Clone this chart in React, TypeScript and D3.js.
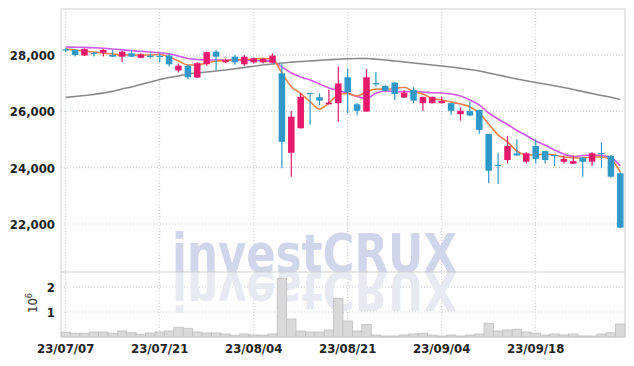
import * as d3 from "d3";

// trading days shown (Korean market, Jul-Oct 2023)
const dates = [
  "23/07/07", "23/07/10", "23/07/11", "23/07/12", "23/07/13", "23/07/14",
  "23/07/17", "23/07/18", "23/07/19", "23/07/20", "23/07/21",
  "23/07/24", "23/07/25", "23/07/26", "23/07/27", "23/07/28",
  "23/07/31", "23/08/01", "23/08/02", "23/08/03", "23/08/04",
  "23/08/07", "23/08/08", "23/08/09", "23/08/10", "23/08/11",
  "23/08/14", "23/08/16", "23/08/17", "23/08/18",
  "23/08/21", "23/08/22", "23/08/23", "23/08/24", "23/08/25",
  "23/08/28", "23/08/29", "23/08/30", "23/08/31", "23/09/01",
  "23/09/04", "23/09/05", "23/09/06", "23/09/07", "23/09/08",
  "23/09/11", "23/09/12", "23/09/13", "23/09/14", "23/09/15",
  "23/09/18", "23/09/19", "23/09/20", "23/09/21", "23/09/22",
  "23/09/25", "23/09/26", "23/09/27", "23/10/04", "23/10/05",
];

const open = [
  28200, 28180, 27980, 28080, 28080, 28000, 27940, 28060, 27900, 27980,
  27970, 27980, 27450, 27620, 27200, 27670, 28120, 27740, 27940, 27670,
  27740, 27740, 27730, 27350, 24530, 25400, 26650, 26500, 26250, 26290,
  27210, 26250, 25990, 27000, 26900, 27020, 26490, 26760, 26290, 26290,
  26290, 26290, 25900, 26010, 26050, 25200, 24100, 24270, 24510, 24210,
  24770, 24590, 24450, 24210, 24140, 24350, 24210, 24520, 24420, 23800,
];
const high = [
  28230, 28200, 28230, 28110, 28200, 28180, 28150, 28180, 28060, 28040,
  28050, 28050, 27700, 27650, 27740, 28120, 28180, 27880, 28000, 28000,
  27900, 27900, 28060, 27700, 26010, 26640, 26650, 26640, 26760, 27590,
  27530, 26300, 27500, 27400, 26940, 27050, 26760, 26860, 26520, 26530,
  26520, 26290, 26140, 26340, 26060, 25200, 24510, 25130, 25010, 24550,
  25010, 24600, 24460, 24430, 24430, 24380, 24550, 24900, 24450, 23840,
];
const low = [
  28100, 27950, 27970, 27950, 27950, 27930, 27740, 27920, 27880, 27880,
  27740, 27590, 27380, 27140, 27190, 27610, 27470, 27720, 27650, 27620,
  27700, 27700, 27700, 23980, 23680, 25380, 25520, 26220, 26250, 25630,
  25930, 25870, 25990, 26880, 26700, 26400, 26470, 26290, 26010, 26280,
  26280, 25870, 25670, 25830, 25200, 23450, 23420, 24150, 24430, 24150,
  24150, 24150, 24060, 24150, 24130, 23680, 24070, 23980, 23640, 21850,
];
const close = [
  28180, 28000, 28210, 28040, 28180, 27940, 28120, 27940, 28020, 27930,
  27940, 27670, 27620, 27210, 27710, 28100, 27940, 27820, 27740, 27940,
  27880, 27860, 27980, 24920, 25810, 26520, 26610, 26380, 26310, 26990,
  26680, 26020, 27210, 26970, 26730, 26620, 26660, 26380, 26510, 26510,
  26370, 26020, 26020, 25850, 25340, 23890, 24070, 24770, 24430, 24510,
  24310, 24270, 24430, 24310, 24230, 24210, 24510, 24500, 23680, 21870,
];

// volume in millions of shares
const volume = [
  0.19, 0.15, 0.15, 0.2, 0.2, 0.15, 0.24, 0.17, 0.11, 0.16,
  0.2, 0.24, 0.39, 0.35, 0.2, 0.16, 0.16, 0.12, 0.07, 0.12,
  0.08, 0.07, 0.12, 2.35, 0.72, 0.24, 0.2, 0.2, 0.28, 1.55,
  0.64, 0.24, 0.5, 0.08, 0.04, 0.04, 0.08, 0.12, 0.15, 0.08,
  0.04, 0.08, 0.04, 0.08, 0.12, 0.55, 0.24, 0.28, 0.31, 0.2,
  0.15, 0.08, 0.12, 0.08, 0.12, 0.04, 0.04, 0.12, 0.17, 0.52,
];

// moving averages
const maShort = [
  28213, 28178, 28142, 28107, 28071, 28036, 28000, 28000, 28000, 28000,
  28018, 27929, 27787, 27645, 27645, 27716, 27787, 27805, 27823, 27840,
  27858, 27876, 27858, 27361, 26875, 26640, 26342, 26083, 26296, 26580,
  26633, 26545, 26687, 26793, 26782, 26811, 26853, 26704, 26616, 26456,
  26403, 26332, 26261, 26154, 25941, 25551, 25160, 24912, 24592, 24450,
  24450, 24485, 24450, 24379, 24354, 24343, 24379, 24379, 24290, 23846,
];
const maMid = [
  28284, 28277, 28270, 28256, 28238, 28213, 28185, 28156, 28131, 28106,
  28082, 28036, 27965, 27876, 27840, 27823, 27823, 27823, 27823, 27812,
  27805, 27794, 27770, 27574, 27361, 27219, 27113, 26971, 26829, 26740,
  26640, 26527, 26456, 26640, 26722, 26704, 26697, 26697, 26687, 26662,
  26651, 26616, 26545, 26403, 26225, 25941, 25728, 25533, 25319, 25142,
  24947, 24805, 24628, 24486, 24397, 24432, 24450, 24432, 24361, 24060,
];
const maLong = [
  26491, 26527, 26562, 26598, 26651, 26711, 26793, 26864, 26953, 27042,
  27130, 27201, 27255, 27326, 27361, 27397, 27432, 27468, 27510, 27556,
  27599, 27645, 27681, 27716, 27744, 27769, 27787, 27812, 27833, 27851,
  27865, 27876, 27876, 27851, 27823, 27787, 27752, 27716, 27681, 27645,
  27610, 27574, 27528, 27485, 27432, 27361, 27290, 27219, 27148, 27084,
  27024, 26970, 26910, 26846, 26775, 26704, 26633, 26562, 26498, 26420,
];

const priceTicks = [22000, 24000, 26000, 28000];
const volTicks = [1, 2];
const dateTicks = ["23/07/07", "23/07/21", "23/08/04", "23/08/21", "23/09/04", "23/09/18"];

const W = 634;
const H = 366;
const left = 61;
const right = 625;
const top = 9;
const split = 272;
const bottom = 337;

const UP = "#e8196b";
const DOWN = "#3097c9";
const GRID = "#c3c8de";
const FONT = "'DejaVu Sans Condensed', 'DejaVu Sans', sans-serif";
const MARK = "'DejaVu Sans', sans-serif";

export default function App() {
  const x = d3.scaleBand<string>().domain(dates).range([left, right]).padding(0);
  const cx = (i: number) => (x(dates[i]) as number) + x.bandwidth() / 2;
  const y = d3.scaleLinear().domain([20296, 29633]).range([split, top]);
  const yv = d3.scaleLinear().domain([0, 2.6]).range([bottom, split]);

  const line = (vals: number[]) =>
    d3
      .line<number>()
      .x((_, i) => cx(i))
      .y((d) => y(d))
      .curve(d3.curveMonotoneX)(vals) as string;

  const bodyW = 6.5;

  return (
    <svg
      width={W}
      height={H}
      style={{ position: "absolute", left: 0, top: 0, background: "#fff" }}
    >
      <defs>
        <clipPath id="refl">
          <rect x={0} y={split} width={W} height={42} />
        </clipPath>
      </defs>

      {/* grid */}
      {priceTicks.map((t) => (
        <line key={"pg" + t} x1={left} x2={right} y1={y(t)} y2={y(t)}
          stroke={GRID} strokeDasharray="1,2" />
      ))}
      {volTicks.map((t) => (
        <line key={"vg" + t} x1={left} x2={right} y1={yv(t)} y2={yv(t)}
          stroke={GRID} strokeDasharray="1,2" />
      ))}
      {dateTicks.map((d) => (
        <line key={"dg" + d} x1={cx(dates.indexOf(d))} x2={cx(dates.indexOf(d))}
          y1={top} y2={bottom} stroke={GRID} strokeDasharray="1,2" />
      ))}

      {/* watermark with its reflection */}
      <text x={172} y={split} fontFamily={MARK} fontWeight="bold" fontSize={53}
        fill="#cfd5ea" textLength={285} lengthAdjust="spacingAndGlyphs">
        investCRUX
      </text>
      <g clipPath="url(#refl)">
        <text x={172} y={split} transform={`translate(0,${split * 2}) scale(1,-1)`}
          fontFamily={MARK} fontWeight="bold" fontSize={53} fill="#e7e9f2"
          textLength={285} lengthAdjust="spacingAndGlyphs">
          investCRUX
        </text>
      </g>

      {/* volume */}
      {volume.map((v, i) => (
        <rect key={"v" + i} x={x(dates[i]) as number} width={x.bandwidth()}
          y={yv(v)} height={bottom - yv(v)} fill="#d9d9d9" stroke="#bdbdbd"
          strokeWidth={0.8} />
      ))}

      {/* moving averages */}
      <path d={line(maLong)} fill="none" stroke="#888" strokeWidth={1.6} />
      <path d={line(maMid)} fill="none" stroke="#cc58ec" strokeWidth={1.6} />
      <path d={line(maShort)} fill="none" stroke="#ef8048" strokeWidth={1.6} />

      {/* candles */}
      {dates.map((d, i) => {
        const up = close[i] >= open[i];
        const c = up ? UP : DOWN;
        const yt = y(Math.max(open[i], close[i]));
        const yb = y(Math.min(open[i], close[i]));
        return (
          <g key={"c" + d}>
            <line x1={cx(i)} x2={cx(i)} y1={y(high[i])} y2={y(low[i])}
              stroke={c} strokeWidth={1.2} />
            <rect x={cx(i) - bodyW / 2} width={bodyW} y={yt}
              height={Math.max(1.2, yb - yt)} fill={c} />
          </g>
        );
      })}

      {/* frame */}
      <rect x={left} y={top} width={right - left} height={bottom - top}
        fill="none" stroke="#cfcfcf" />
      <line x1={left} x2={right} y1={split} y2={split} stroke="#cfcfcf" />

      {/* axes labels */}
      {priceTicks.map((t) => (
        <text key={"pt" + t} x={55} y={y(t) + 5} textAnchor="end"
          fontFamily={FONT} fontWeight="bold" fontSize={13} fill="#222">
          {d3.format(",")(t)}
        </text>
      ))}
      {volTicks.map((t) => (
        <text key={"vt" + t} x={55} y={yv(t) + 5} textAnchor="end"
          fontFamily={FONT} fontWeight="bold" fontSize={13} fill="#222">
          {t}
        </text>
      ))}
      <text transform="translate(37,303) rotate(-90)" textAnchor="middle"
        fontFamily={FONT} fontSize={13} fill="#333">
        10<tspan fontSize={9} dy={-5}>6</tspan>
      </text>
      {dateTicks.map((d) => (
        <text key={"dt" + d} x={cx(dates.indexOf(d))} y={353} textAnchor="middle"
          fontFamily={FONT} fontWeight="bold" fontSize={13} fill="#222">
          {d}
        </text>
      ))}
    </svg>
  );
}
